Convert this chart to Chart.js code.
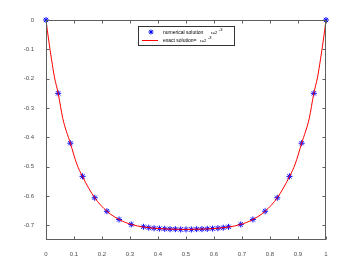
<!DOCTYPE html>
<html>
<head>
<meta charset="utf-8">
<script src="https://cdn.jsdelivr.net/npm/chart.js@4"></script>
<style>
  html, body { margin: 0; padding: 0; background: #fff; }
  #wrap { width: 360px; height: 270px; }
</style>
</head>
<body>
<div id="wrap"><canvas id="chart" width="360" height="270"></canvas></div>
<script>
// DATA
const numX = [0, 0.0435, 0.087, 0.1305, 0.174, 0.2175, 0.261, 0.3045, 0.348,
  0.367, 0.386, 0.405, 0.424, 0.443, 0.462, 0.481, 0.5, 0.519, 0.538, 0.557,
  0.576, 0.595, 0.614, 0.633, 0.652, 0.6955, 0.739, 0.7825, 0.826, 0.8695,
  0.913, 0.9565, 1];
const numY = [0, -0.25, -0.42, -0.533, -0.606, -0.652, -0.68, -0.697, -0.705,
  -0.708, -0.71, -0.711, -0.712, -0.713, -0.713, -0.714, -0.714, -0.714, -0.713,
  -0.713, -0.712, -0.711, -0.71, -0.708, -0.705, -0.697, -0.68, -0.652, -0.606,
  -0.533, -0.42, -0.25, 0];
const exactX = [0, 0.01, 0.02, 0.03, 0.0435, 0.06, 0.087, 0.11, 0.13, 0.174,
  0.2175, 0.261, 0.3045, 0.35, 0.4, 0.45, 0.5, 0.55, 0.6, 0.65, 0.6955, 0.739,
  0.7825, 0.826, 0.87, 0.89, 0.913, 0.94, 0.9565, 0.97, 0.98, 0.99, 1];
const exactY = [0, -0.072, -0.136, -0.194, -0.25, -0.336, -0.42, -0.491, -0.533,
  -0.606, -0.652, -0.68, -0.697, -0.706, -0.711, -0.713, -0.714, -0.713, -0.711,
  -0.706, -0.697, -0.68, -0.652, -0.606, -0.533, -0.491, -0.42, -0.336, -0.25,
  -0.194, -0.136, -0.072, 0];
const xTicks = [0, 0.1, 0.2, 0.3, 0.4, 0.5, 0.6, 0.7, 0.8, 0.9, 1];
const yTicks = [0, -0.1, -0.2, -0.3, -0.4, -0.5, -0.6, -0.7];

const axisColor = '#5e5e5e';
const labelColor = '#4d4d4d';
const tickFont = { family: 'Liberation Sans, Arial, sans-serif', size: 6 };

function fmt(v) {
    return String(Math.round(v * 10) / 10);
}

function drawBox(chart) {
    const ctx = chart.ctx;
    const a = chart.chartArea;
    const xs = chart.scales.x;
    const ys = chart.scales.y;
    const L = Math.round(a.left) + 0.5, R = Math.round(a.right) - 0.5;
    const T = Math.round(a.top) + 0.5, B = Math.round(a.bottom) - 0.5;
    ctx.save();
    ctx.setLineDash([]);
    ctx.globalAlpha = 1;
    ctx.strokeStyle = axisColor;
    ctx.lineWidth = 1;
    ctx.strokeRect(L, T, R - L, B - T);
    ctx.beginPath();
    for (const v of xTicks) {
        const px = Math.round(xs.getPixelForValue(v)) + 0.5;
        ctx.moveTo(px, B); ctx.lineTo(px, B - 3);
        ctx.moveTo(px, T); ctx.lineTo(px, T + 3);
    }
    for (const v of yTicks) {
        const py = Math.round(ys.getPixelForValue(v)) + 0.5;
        ctx.moveTo(L, py); ctx.lineTo(L + 3, py);
        ctx.moveTo(R, py); ctx.lineTo(R - 3, py);
    }
    ctx.stroke();
    ctx.restore();
}

function drawLegend(chart) {
    const ctx = chart.ctx;
    ctx.save();
    ctx.fillStyle = '#fff';
    ctx.fillRect(138, 26, 97, 20);
    ctx.strokeStyle = '#333';
    ctx.lineWidth = 1;
    ctx.strokeRect(138.5, 26.5, 96, 19);

    // star marker
    ctx.strokeStyle = '#0000ff';
    ctx.beginPath();
    const cx = 151, cy = 32, r = 2.5;
    for (let i = 0; i < 4; i++) {
        const ang = i * Math.PI / 4;
        ctx.moveTo(cx - r * Math.cos(ang), cy - r * Math.sin(ang));
        ctx.lineTo(cx + r * Math.cos(ang), cy + r * Math.sin(ang));
    }
    ctx.stroke();

    // red line
    ctx.strokeStyle = '#ff0000';
    ctx.beginPath();
    ctx.moveTo(142, 40.5); ctx.lineTo(158, 40.5);
    ctx.stroke();

    ctx.fillStyle = '#000';
    ctx.textBaseline = 'middle';
    ctx.font = '5px Liberation Sans, Arial, sans-serif';
    ctx.fillText('numerical solution', 163, 32.5);
    ctx.fillText('exact solution=', 163, 40.5);
    ctx.font = '4px Liberation Sans, Arial, sans-serif';
    ctx.fillText('\u03b5=2', 211, 33);
    ctx.fillText('\u03b5=2', 200, 41);
    ctx.fillText('-3', 219, 30);
    ctx.fillText('-3', 208, 38);
    ctx.restore();
}

// BOX + INWARD TICKS + LEGEND (matlab style)
const matlabPlugin = {
    id: 'matlabLook',
    afterDraw(chart) {
        drawBox(chart);
        drawLegend(chart);
    }
};

window.onload = function () {

    new Chart(document.getElementById('chart'), {
        type: 'scatter',
        data: {
            datasets: [{
                label: 'exact solution',
                data: exactX.map((x, i) => ({ x: x, y: exactY[i] })),
                showLine: true,
                borderColor: '#ff0000',
                borderWidth: 1,
                pointRadius: 0,
                cubicInterpolationMode: 'monotone',
                order: 0
            }, {
                label: 'numerical solution',
                data: numX.map((x, i) => ({ x: x, y: numY[i] })),
                showLine: false,
                pointStyle: 'star',
                pointRadius: 3,
                borderColor: '#0000ff',
                backgroundColor: '#0000ff',
                borderWidth: 1,
                clip: false,
                order: 1
            }]
        },
        options: {
            responsive: false,
            animation: false,
            events: [],
            layout: { padding: { top: 20, right: 34, left: 0, bottom: 0 } },
            plugins: {
                legend: { display: false },
                tooltip: { enabled: false }
            },
            scales: {
                x: {
                    type: 'linear',
                    min: 0, max: 1,
                    afterBuildTicks: s => { s.ticks = xTicks.map(v => ({ value: v })); },
                    afterFit: s => { s.height = 30; },
                    grid: { display: false },
                    border: { display: false },
                    ticks: { color: labelColor, font: tickFont, padding: 3, maxRotation: 0, autoSkip: false, callback: fmt }
                },
                y: {
                    type: 'linear',
                    min: -0.75, max: 0,
                    afterBuildTicks: s => { s.ticks = yTicks.map(v => ({ value: v })); },
                    afterFit: s => { s.width = 46; },
                    grid: { display: false },
                    border: { display: false },
                    ticks: { color: labelColor, font: tickFont, padding: 4, autoSkip: false, callback: fmt }
                }
            }
        },
        plugins: [matlabPlugin]
    });

};
</script>
</body>
</html>
